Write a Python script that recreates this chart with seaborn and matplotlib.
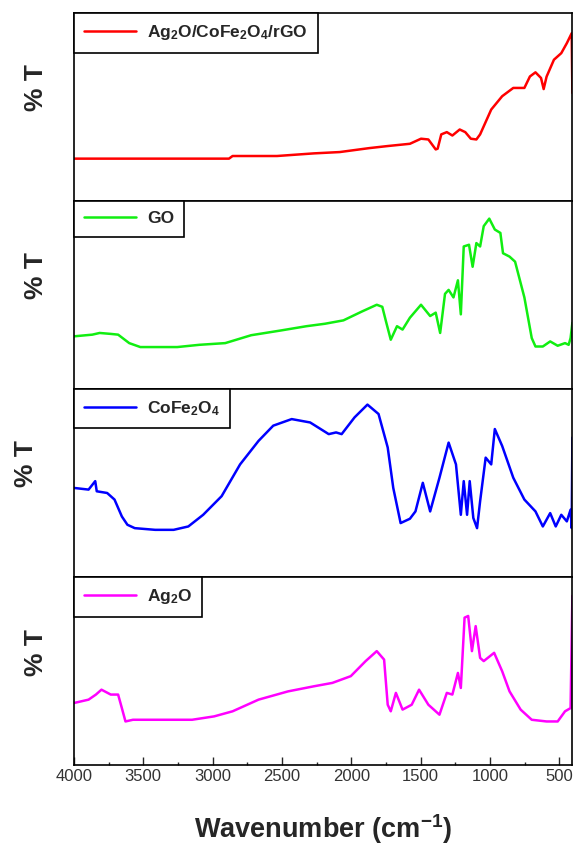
import matplotlib
matplotlib.use("Agg")
import matplotlib.pyplot as plt
import seaborn as sns
from matplotlib.ticker import MultipleLocator

# FTIR spectra (wavenumber in cm-1, relative %T)
rgo_wn = [4000, 3500, 2882, 2856, 2536, 2270, 2084, 1871, 1738, 1578, 1498, 1445,
          1392, 1378, 1352, 1312, 1272, 1219, 1179, 1139, 1099, 1072, 992, 913,
          833, 753, 713, 673, 633, 614, 593, 540, 487, 447, 412, 407]
rgo_t = [22.4, 22.4, 22.4, 23.8, 23.8, 25.2, 25.9, 28.0, 29.1, 30.3, 33.0, 32.6,
         27.3, 27.7, 35.3, 36.5, 34.7, 37.9, 36.5, 33.0, 32.6, 35.3, 48.5, 55.6,
         60.0, 60.0, 66.1, 68.3, 65.3, 59.4, 66.0, 75.0, 78.5, 83.8, 89.1, 57.3]

go_wn = [4000, 3867, 3814, 3734, 3681, 3601, 3521, 3255, 3095, 2909, 2722, 2510,
         2323, 2190, 2057, 1924, 1817, 1777, 1751, 1716, 1671, 1631, 1578, 1498,
         1432, 1392, 1360, 1325, 1299, 1264, 1232, 1211, 1190, 1152, 1126, 1099,
         1072, 1046, 1006, 966, 926, 907, 860, 820, 753, 700, 673, 620, 567, 513,
         460, 434, 420, 407]
go_t = [27.9, 28.8, 29.7, 29.2, 28.8, 24.3, 22.2, 22.2, 23.4, 24.3, 28.5, 31.0,
        33.3, 34.6, 36.4, 41.1, 44.7, 43.6, 36.0, 26.1, 33.3, 31.5, 37.8, 44.7,
        38.7, 40.5, 29.7, 50.5, 52.6, 48.6, 57.7, 39.6, 75.7, 76.6, 64.9, 77.5,
        75.7, 86.5, 90.5, 84.7, 82.9, 72.1, 70.3, 67.6, 48.6, 27.0, 22.5, 22.5,
        25.2, 22.9, 24.3, 23.4, 27.0, 35.1]

cfo_wn = [4000, 3894, 3846, 3835, 3760, 3707, 3654, 3614, 3561, 3414, 3281, 3175,
          3068, 2935, 2802, 2669, 2563, 2430, 2297, 2163, 2110, 2070, 1977, 1884,
          1804, 1738, 1698, 1645, 1578, 1538, 1485, 1432, 1365, 1299, 1246, 1211,
          1190, 1166, 1147, 1121, 1094, 1072, 1032, 992, 966, 913, 833, 753, 673,
          620, 567, 527, 487, 447, 420, 412, 407]
cfo_t = [47.3, 46.4, 50.9, 45.5, 44.6, 41.1, 32.1, 27.7, 25.9, 25.0, 25.0, 26.8,
         33.0, 42.9, 59.8, 72.3, 80.4, 83.9, 82.1, 75.9, 76.8, 75.9, 84.8, 91.6,
         86.6, 68.8, 47.3, 28.6, 30.9, 34.8, 50.0, 34.8, 52.7, 71.4, 59.8, 33.0,
         50.9, 33.0, 50.9, 31.3, 25.9, 40.2, 63.4, 59.8, 78.6, 69.6, 52.7, 41.1,
         34.8, 26.8, 33.9, 26.8, 33.0, 29.5, 35.7, 25.9, 74.1]

ag_wn = [4000, 3894, 3841, 3801, 3734, 3681, 3654, 3628, 3574, 3148, 2989, 2856,
         2669, 2456, 2270, 2137, 2004, 1897, 1817, 1764, 1738, 1716, 1679, 1631,
         1565, 1512, 1445, 1365, 1312, 1272, 1232, 1211, 1184, 1158, 1131, 1104,
         1072, 1046, 971, 913, 860, 780, 700, 593, 513, 460, 420, 407]
ag_t = [32.9, 34.7, 37.4, 40.0, 37.4, 37.4, 30.2, 23.1, 24.0, 24.0, 25.8, 28.5,
        34.7, 39.1, 41.8, 43.6, 47.2, 55.2, 60.5, 56.0, 32.0, 28.5, 38.3, 29.4,
        32.0, 40.0, 32.0, 26.7, 38.3, 37.4, 48.9, 40.9, 78.3, 79.2, 60.5, 73.8,
        56.9, 55.2, 59.6, 49.8, 39.1, 29.4, 24.0, 23.1, 23.1, 28.5, 30.2, 89.9]

labels = [r"Ag$_2$O/CoFe$_2$O$_4$/rGO", "GO", r"CoFe$_2$O$_4$", r"Ag$_2$O"]
colors = ["#ff0000", "#11ee11", "#0000ff", "#ff00ff"]
series = [(rgo_wn, rgo_t), (go_wn, go_t), (cfo_wn, cfo_t), (ag_wn, ag_t)]

sns.set_style("ticks")
plt.rcParams["font.family"] = ["Liberation Sans", "DejaVu Sans"]
plt.rcParams["mathtext.fontset"] = "custom"
plt.rcParams["mathtext.rm"] = "Liberation Sans"
plt.rcParams["mathtext.bf"] = "Liberation Sans:bold"
plt.rcParams["mathtext.default"] = "bf"

fig, axes = plt.subplots(4, 1, sharex=True, figsize=(5.77, 8.48), dpi=100)
plt.subplots_adjust(left=0.128, right=0.992, top=0.985, bottom=0.098, hspace=0)

for i, (ax, (wn, t)) in enumerate(zip(axes, series)):
    sns.lineplot(x=wn, y=t, ax=ax, color=colors[i], linewidth=1.8,
                 sort=False, estimator=None, label=labels[i])
    ax.set_ylim(0, 100)
    ax.set_yticks([])
    ax.set_ylabel("% T", fontsize=19, fontweight="bold")
    ax.yaxis.set_label_coords(-0.072 if i == 2 else -0.052, 0.6)
    for s in ax.spines.values():
        s.set_color("black")
        s.set_linewidth(1.2)
    leg = ax.legend(loc="upper left", borderaxespad=0, fancybox=False,
                    framealpha=1, edgecolor="black", handlelength=3.0,
                    borderpad=0.6, handletextpad=0.6,
                    prop={"size": 12.5, "weight": "bold"})
    leg.get_frame().set_linewidth(1.2)
    if i < 3:
        ax.tick_params(axis="x", which="both", bottom=False, labelbottom=False)

ax = axes[-1]
ax.set_xlim(4000, 407)
ax.xaxis.set_major_locator(MultipleLocator(500))
ax.xaxis.set_minor_locator(MultipleLocator(250))
ax.tick_params(axis="x", which="major", direction="in", length=6, width=1,
               labelsize=12, labelcolor="#333333", pad=3)
ax.tick_params(axis="x", which="minor", direction="in", length=2.5, width=1)
ax.set_xlabel("Wavenumber (cm$^{-1}$)", fontsize=19.5, fontweight="bold", labelpad=20)

plt.savefig("out.png", dpi=100)
